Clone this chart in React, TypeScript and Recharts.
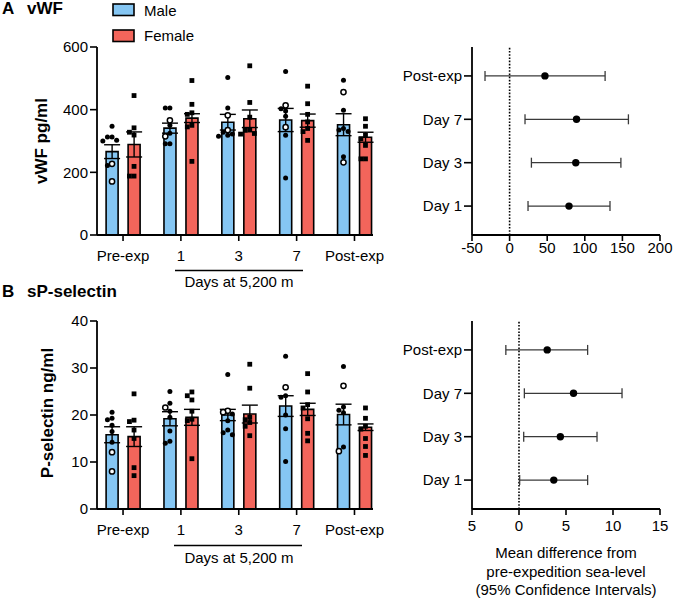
import React from "react";
import { ComposedChart, Bar, Scatter, XAxis, YAxis, ErrorBar, ReferenceLine } from "recharts";

// ---------- data ----------
const categories = ["Pre-exp", "1", "3", "7", "Post-exp"];
const categoryPos = [1, 2, 3, 4, 5];

// Panel A: vWF (pg/ml)
const vwfMaleMean = [266, 341, 360, 367, 352];
const vwfMaleSem = [22, 16, 25, 37, 35];
const vwfFemaleMean = [289, 373, 371, 365, 312];
const vwfFemaleSem = [40, 14, 28, 21, 16];
const vwfMaleFilled = [
  [347, 313, 313, 302, 300, 222],
  [405, 405, 350, 325, 291, 291],
  [503, 405, 328, 322, 318, 315],
  [522, 403, 396, 379, 318, 182],
  [494, 398, 340, 335, 330, 250],
];
const vwfMaleOpen = [
  [227, 171],
  [366, 315],
  [382, 335],
  [414, 344],
  [456, 232],
];
const vwfFemale = [
  [445, 342, 328, 319, 219, 188, 188],
  [493, 417, 390, 385, 350, 345, 235],
  [540, 423, 376, 335, 334, 324, 322],
  [475, 419, 385, 361, 340, 330, 302],
  [371, 347, 318, 307, 286, 243, 243],
];

// Panel B: sP-selectin (ng/ml)
const spMaleMean = [15.8, 19.2, 20.0, 21.9, 20.1];
const spMaleSem = [1.7, 1.5, 1.2, 2.2, 2.2];
const spFemaleMean = [15.4, 19.5, 20.2, 21.2, 17.4];
const spFemaleSem = [2.1, 1.7, 1.9, 1.3, 0.7];
const spMaleFilled = [
  [20.6, 19.3, 19.0, 17.8, 16.5, 14.2],
  [25.0, 22.5, 20.8, 19.5, 16.6, 14.4, 14.0],
  [28.6, 20.2, 18.8, 16.8, 16.2, 15.8],
  [32.5, 24.1, 23.8, 20.0, 17.1, 10.1],
  [30.3, 21.7, 21.0, 20.5, 13.2],
];
const spMaleOpen = [
  [12.1, 8.0],
  [21.6],
  [20.9, 20.6],
  [25.9],
  [26.2, 12.3],
];
const spFemale = [
  [24.5, 18.9, 18.6, 16.8, 15.0, 8.8, 7.1],
  [24.9, 24.1, 23.2, 20.8, 19.1, 18.8, 10.7],
  [30.8, 25.7, 19.5, 19.0, 18.4, 17.6, 15.6],
  [28.8, 24.9, 22.2, 21.5, 19.2, 16.1, 14.5],
  [21.5, 19.3, 17.6, 17.0, 15.0, 13.3, 11.4],
];

// Forest plots (mean difference, 95% CI)
const forestLabels = ["Day 1", "Day 3", "Day 7", "Post-exp"];
const vwfDiff = [79, 88, 89, 47];
const vwfLo = [24.5, 29, 20.5, -32.7];
const vwfHi = [133.5, 148, 158, 127];
const vwfTicks = [-50, 0, 50, 100, 150, 200];
const vwfTickLabels = ["-50", "0", "50", "100", "150", "200"];
const spDiff = [3.7, 4.4, 5.8, 3.0];
const spLo = [0.07, 0.5, 0.57, -1.4];
const spHi = [7.3, 8.3, 10.96, 7.3];
const spTicks = [-5, 0, 5, 10, 15];
const spTickLabels = ["5", "0", "5", "10", "15"];

// ---------- style ----------
const FONT = "'Liberation Sans', Arial, Helvetica, sans-serif";
const BLUE = "#85C6F3";
const RED = "#F3655B";
const AXIS = { stroke: "#000", strokeWidth: 1.8 };
const TICKLINE = { stroke: "#000", strokeWidth: 1.6 };
const TICK = { fill: "#000", fontSize: 15, fontFamily: FONT };

const BAR_CHART_W = 400;
const BAR_Y_W = 60;
const BAR_M_LEFT = 37;
const BAR_M_RIGHT = 27;
const PLOT_H = 188;
const X_DOMAIN: [number, number] = [0.55, 5.32];
const PLOT_W = BAR_CHART_W - BAR_Y_W - BAR_M_LEFT - BAR_M_RIGHT;
const PX_PER_UNIT = PLOT_W / (X_DOMAIN[1] - X_DOMAIN[0]);
// category band padding so that band centres line up with the numeric positions
const PAD_LEFT = -(0.5 - (categoryPos[0] - X_DOMAIN[0])) * PX_PER_UNIT;
const PAD_RIGHT = -(0.5 - (X_DOMAIN[1] - categoryPos[categoryPos.length - 1])) * PX_PER_UNIT;

type Pt = { x: number; y: number };

function swarm(vals: { v: number; k: string }[], thr: number) {
  const sorted = [...vals].sort((a, b) => b.v - a.v);
  const placed: { v: number; k: string; col: number }[] = [];
  const order = [0, -1, 1, -2, 2, -3, 3];
  for (const p of sorted) {
    const col = order.find((c) => !placed.some((q) => q.col === c && Math.abs(q.v - p.v) < thr));
    placed.push({ ...p, col: col === undefined ? 0 : col });
  }
  return placed;
}

function buildPoints(filled: number[][], open: number[][], fem: number[][], thr: number) {
  const step = 4.6 / PX_PER_UNIT;
  const sexOff = 11 / PX_PER_UNIT;
  const mf: Pt[] = [];
  const mo: Pt[] = [];
  const ff: Pt[] = [];
  categoryPos.forEach((pos, i) => {
    const male = swarm(
      [...filled[i].map((v) => ({ v, k: "f" })), ...open[i].map((v) => ({ v, k: "o" }))],
      thr
    );
    male.forEach((p) => {
      const pt = { x: pos - sexOff + p.col * step, y: p.v };
      (p.k === "f" ? mf : mo).push(pt);
    });
    swarm(fem[i].map((v) => ({ v, k: "f" })), thr).forEach((p) => {
      ff.push({ x: pos + sexOff + p.col * step, y: p.v });
    });
  });
  return { mf, mo, ff };
}

const filledCircle = (p: any) => <circle cx={p.cx} cy={p.cy} r={2.5} fill="#000" />;
const openCircle = (p: any) => (
  <circle cx={p.cx} cy={p.cy} r={2.6} fill="#fff" stroke="#000" strokeWidth={1.5} />
);
const square = (p: any) => <rect x={p.cx - 2.4} y={p.cy - 2.4} width={4.8} height={4.8} fill="#000" />;
const bigDot = (p: any) => <circle cx={p.cx} cy={p.cy} r={3.7} fill="#000" />;

function BarPanel(props: {
  top: number;
  height: number;
  plotTop: number;
  yMax: number;
  yTicks: number[];
  maleMean: number[];
  maleSem: number[];
  femaleMean: number[];
  femaleSem: number[];
  maleFilled: number[][];
  maleOpen: number[][];
  female: number[][];
}) {
  const { top, height, plotTop, yMax, yTicks } = props;
  const data = categories.map((c, i) => ({
    name: c,
    male: props.maleMean[i],
    maleSem: props.maleSem[i],
    female: props.femaleMean[i],
    femaleSem: props.femaleSem[i],
  }));
  const thr = (yMax * 5) / PLOT_H;
  const pts = buildPoints(props.maleFilled, props.maleOpen, props.female, thr);
  return (
    <div style={{ position: "absolute", left: 0, top, width: BAR_CHART_W, height }}>
      <ComposedChart
        width={BAR_CHART_W}
        height={height}
        data={data}
        barGap={10}
        margin={{ top: plotTop, right: BAR_M_RIGHT, bottom: height - plotTop - PLOT_H - 30, left: BAR_M_LEFT }}
      >
        <XAxis
          dataKey="name"
          type="category"
          padding={{ left: PAD_LEFT, right: PAD_RIGHT }}
          interval={0}
          axisLine={AXIS}
          tickLine={TICKLINE}
          tickSize={6}
          tickMargin={9}
          tick={TICK}
          height={30}
        />
        <XAxis
          xAxisId="pts"
          type="number"
          dataKey="x"
          domain={X_DOMAIN}
          allowDataOverflow
          hide
        />
        <YAxis
          type="number"
          domain={[0, yMax]}
          allowDataOverflow
          ticks={yTicks}
          interval={0}
          axisLine={AXIS}
          tickLine={TICKLINE}
          tickSize={7}
          tickMargin={2}
          tick={TICK}
          width={BAR_Y_W}
        />
        <Bar dataKey="male" fill={BLUE} stroke="#000" strokeWidth={1.6} barSize={12} isAnimationActive={false}>
          <ErrorBar dataKey="maleSem" direction="y" width={8} stroke="#000" strokeWidth={1.4} />
        </Bar>
        <Bar dataKey="female" fill={RED} stroke="#000" strokeWidth={1.6} barSize={12} isAnimationActive={false}>
          <ErrorBar dataKey="femaleSem" direction="y" width={8} stroke="#000" strokeWidth={1.4} />
        </Bar>
        <Scatter xAxisId="pts" data={pts.mf} dataKey="y" shape={filledCircle} isAnimationActive={false} />
        <Scatter xAxisId="pts" data={pts.mo} dataKey="y" shape={openCircle} isAnimationActive={false} />
        <Scatter xAxisId="pts" data={pts.ff} dataKey="y" shape={square} isAnimationActive={false} />
      </ComposedChart>
    </div>
  );
}

function ForestPanel(props: {
  top: number;
  height: number;
  plotTop: number;
  domain: [number, number];
  ticks: number[];
  tickLabels: string[];
  diff: number[];
  lo: number[];
  hi: number[];
  xTickMargin: number;
}) {
  const { top, height, plotTop, domain, ticks, tickLabels } = props;
  const data = forestLabels.map((l, i) => ({
    x: props.diff[i],
    y: i + 1,
    err: [props.diff[i] - props.lo[i], props.hi[i] - props.diff[i]],
  }));
  const W = 294;
  return (
    <div style={{ position: "absolute", left: 380, top, width: W, height }}>
      <ComposedChart
        width={W}
        height={height}
        margin={{ top: plotTop, right: 14, bottom: height - plotTop - PLOT_H - 30, left: 0 }}
      >
        <XAxis
          type="number"
          dataKey="x"
          domain={domain}
          allowDataOverflow
          ticks={ticks}
          interval={0}
          tickFormatter={(v: number) => tickLabels[ticks.indexOf(v)]}
          axisLine={AXIS}
          tickLine={TICKLINE}
          tickSize={6}
          tickMargin={props.xTickMargin}
          tick={TICK}
          height={30}
        />
        <YAxis
          type="number"
          dataKey="y"
          domain={[1 / 3, 14 / 3]}
          allowDataOverflow
          ticks={[1, 2, 3, 4]}
          interval={0}
          tickFormatter={(v: number) => forestLabels[v - 1]}
          axisLine={AXIS}
          tickLine={TICKLINE}
          tickSize={8}
          tickMargin={2}
          tick={TICK}
          width={92}
        />
        <ReferenceLine x={0} stroke="#000" strokeWidth={1.6} strokeDasharray="1.6 1.6" />
        <Scatter data={data} shape={bigDot} isAnimationActive={false}>
          <ErrorBar dataKey="err" direction="x" width={5} stroke="#3a3a3a" strokeWidth={1.3} />
        </Scatter>
      </ComposedChart>
    </div>
  );
}

export default function App() {
  const titleStyle = { fontFamily: FONT, fontWeight: 700, fontSize: 17, fill: "#000" } as const;
  const txt = { fontFamily: FONT, fontSize: 15, fill: "#000" } as const;
  const ylab = { fontFamily: FONT, fontWeight: 700, fontSize: 17, fill: "#000" } as const;
  return (
    <div
      style={{
        position: "absolute",
        left: 0,
        top: 0,
        width: 674,
        height: 600,
        background: "#fff",
        overflow: "hidden",
        fontFamily: FONT,
      }}
    >
      <BarPanel
        top={0}
        height={300}
        plotTop={47}
        yMax={600}
        yTicks={[0, 200, 400, 600]}
        maleMean={vwfMaleMean}
        maleSem={vwfMaleSem}
        femaleMean={vwfFemaleMean}
        femaleSem={vwfFemaleSem}
        maleFilled={vwfMaleFilled}
        maleOpen={vwfMaleOpen}
        female={vwfFemale}
      />
      <BarPanel
        top={280}
        height={320}
        plotTop={41}
        yMax={40}
        yTicks={[0, 10, 20, 30, 40]}
        maleMean={spMaleMean}
        maleSem={spMaleSem}
        femaleMean={spFemaleMean}
        femaleSem={spFemaleSem}
        maleFilled={spMaleFilled}
        maleOpen={spMaleOpen}
        female={spFemale}
      />
      <ForestPanel
        top={0}
        height={300}
        plotTop={47}
        domain={[-50, 200]}
        ticks={vwfTicks}
        tickLabels={vwfTickLabels}
        diff={vwfDiff}
        lo={vwfLo}
        hi={vwfHi}
        xTickMargin={1}
      />
      <ForestPanel
        top={280}
        height={320}
        plotTop={41}
        domain={[-5, 15]}
        ticks={spTicks}
        tickLabels={spTickLabels}
        diff={spDiff}
        lo={spLo}
        hi={spHi}
        xTickMargin={5}
      />
      <svg
        width={674}
        height={600}
        style={{ position: "absolute", left: 0, top: 0, pointerEvents: "none" }}
      >
        <text x={2} y={14} style={titleStyle}>A</text>
        <text x={27} y={14} style={titleStyle}>vWF</text>
        <text x={2} y={297} style={titleStyle}>B</text>
        <text x={27} y={297} style={titleStyle}>sP-selectin</text>

        <rect x={113} y={4} width={21} height={11.5} fill={BLUE} stroke="#000" strokeWidth={1.6} />
        <text x={144} y={15.5} style={txt}>Male</text>
        <rect x={113} y={30} width={21} height={11.5} fill={RED} stroke="#000" strokeWidth={1.6} />
        <text x={144} y={40.5} style={txt}>Female</text>

        <text x={46.5} y={141} textAnchor="middle" transform="rotate(-90 46.5 141)" style={ylab}>
          vWF pg/ml
        </text>
        <text x={53} y={413} textAnchor="middle" transform="rotate(-90 53 413)" style={ylab}>
          P-selectin ng/ml
        </text>

        <line x1={175} x2={303} y1={270.5} y2={270.5} stroke="#000" strokeWidth={1.5} />
        <text x={239} y={287} textAnchor="middle" style={txt}>Days at 5,200 m</text>
        <line x1={174} x2={302} y1={545.5} y2={545.5} stroke="#000" strokeWidth={1.5} />
        <text x={239} y={563} textAnchor="middle" style={txt}>Days at 5,200 m</text>

        <text x={566} y={558} textAnchor="middle" style={txt}>Mean difference from</text>
        <text x={566} y={576.5} textAnchor="middle" style={txt}>pre-expedition sea-level</text>
        <text x={566} y={595} textAnchor="middle" style={txt}>(95% Confidence Intervals)</text>
      </svg>
    </div>
  );
}
